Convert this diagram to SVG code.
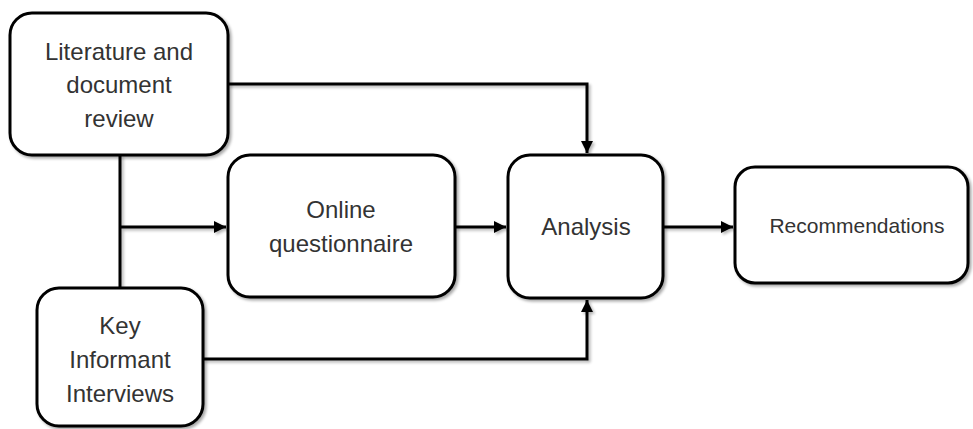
<svg xmlns="http://www.w3.org/2000/svg" width="973" height="429" viewBox="0 0 973 429">
<style>
.box{fill:#fff;stroke:#000;stroke-width:3;filter:url(#sh)}
.t{font-family:"Liberation Sans",Arial,sans-serif;font-size:24px;fill:#333;text-anchor:middle}
.c{fill:none;stroke:#000;stroke-width:3}
</style>
<defs>
<filter id="sh" x="-10%" y="-10%" width="120%" height="130%">
<feGaussianBlur in="SourceAlpha" stdDeviation="1.5"/>
<feOffset dx="2" dy="2" result="b"/>
<feComponentTransfer><feFuncA type="linear" slope="0.35"/></feComponentTransfer>
<feMerge><feMergeNode/><feMergeNode in="SourceGraphic"/></feMerge>
</filter>
<filter id="shc" filterUnits="userSpaceOnUse" x="0" y="0" width="973" height="429">
<feGaussianBlur in="SourceAlpha" stdDeviation="1.5"/>
<feOffset dx="2" dy="2" result="b"/>
<feComponentTransfer><feFuncA type="linear" slope="0.3"/></feComponentTransfer>
<feMerge><feMergeNode/><feMergeNode in="SourceGraphic"/></feMerge>
</filter>
<marker id="ah" viewBox="0 0 10 10" refX="10" refY="5" markerWidth="4" markerHeight="4" orient="auto" markerUnits="strokeWidth">
<path d="M0,0 L10,5 L0,10 z" fill="#000"/>
</marker>
</defs>
<g id="connectors" filter="url(#shc)">
<path class="c" d="M228,84 H587 V153" marker-end="url(#ah)"/>
<path class="c" d="M120,155 V288"/>
<path class="c" d="M120,227 H226" marker-end="url(#ah)"/>
<path class="c" d="M455,227 H506" marker-end="url(#ah)"/>
<path class="c" d="M663,227 H733" marker-end="url(#ah)"/>
<path class="c" d="M203,359 H587 V300" marker-end="url(#ah)"/>
</g>
<g id="literature">
<rect class="box" x="10" y="13" width="218" height="142" rx="22"/>
<text class="t" x="119" y="60">Literature and</text>
<text class="t" x="119" y="93">document</text>
<text class="t" x="119" y="127">review</text>
</g>
<g id="online">
<rect class="box" x="228" y="155" width="227" height="142" rx="22"/>
<text class="t" x="341" y="218">Online</text>
<text class="t" x="341" y="252">questionnaire</text>
</g>
<g id="analysis">
<rect class="box" x="508" y="155" width="155" height="143" rx="22"/>
<text class="t" x="586" y="235">Analysis</text>
</g>
<g id="recommendations">
<rect class="box" x="735" y="167" width="233" height="116" rx="20"/>
<text class="t" x="857" y="233" style="font-size:21px">Recommendations</text>
</g>
<g id="key">
<rect class="box" x="37" y="288" width="166" height="138" rx="22"/>
<text class="t" x="120" y="334">Key</text>
<text class="t" x="120" y="368">Informant</text>
<text class="t" x="120" y="402">Interviews</text>
</g>
</svg>
